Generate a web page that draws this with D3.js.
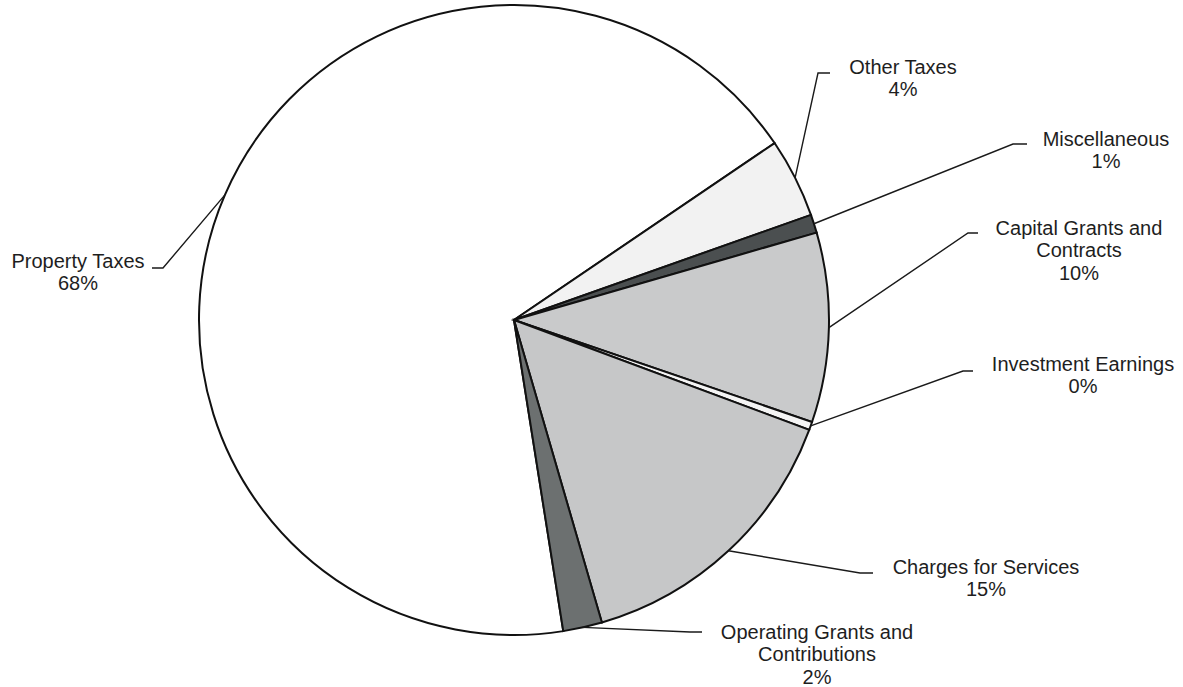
<!DOCTYPE html>
<html>
<head>
<meta charset="utf-8">
<script src="https://cdn.jsdelivr.net/npm/d3@7"></script>
<style>
  html, body { margin: 0; padding: 0; background: #ffffff; }
  svg { display: block; }
  text { font-family: "Liberation Sans", Arial, sans-serif; fill: #1e1e1e; }
</style>
</head>
<body>
<svg id="chart" width="1183" height="687"></svg>
<script>
// ---- data ----
const categories = ["Property Taxes", "Other Taxes", "Miscellaneous", "Capital Grants and Contracts",
                    "Investment Earnings", "Charges for Services", "Operating Grants and Contributions"];
const values = [68.0, 4.08, 0.94, 9.72, 0.42, 14.83, 2.0];
const labelLines = [
  ["Property Taxes"],
  ["Other Taxes"],
  ["Miscellaneous"],
  ["Capital Grants and", "Contracts"],
  ["Investment Earnings"],
  ["Charges for Services"],
  ["Operating Grants and", "Contributions"]
];
const fills = ["#ffffff", "#f2f2f2", "#4b4f50", "#c9cacb", "#f4f4f4", "#c6c7c8", "#6c7070"];

// ---- layout ----
const cx = 514, cy = 320, R = 315;
const startDeg = 171;
// label layout: text centre x, first-line centre y, elbow point, end point of leader
const labelLayout = [
  { tx: 78,   ty: 261, elbow: [163, 268], end: [152, 268] },
  { tx: 903,  ty: 67,  elbow: [818, 73],  end: [830, 73] },
  { tx: 1106, ty: 139, elbow: [1013, 144], end: [1027, 144] },
  { tx: 1079, ty: 228, elbow: [968, 233], end: [978, 233] },
  { tx: 1083, ty: 364, elbow: [963, 371], end: [973, 371] },
  { tx: 986,  ty: 567, elbow: [860, 573], end: [873, 573] },
  { tx: 817,  ty: 632, elbow: [690, 632], end: [702, 632] }
];
const lineGap = 22.3;

const svg = d3.select("#chart");
const g = svg.append("g").attr("transform", `translate(${cx},${cy})`);

const pie = d3.pie().sort(null).value(d => d)
  .startAngle(startDeg * Math.PI / 180)
  .endAngle(startDeg * Math.PI / 180 + 2 * Math.PI);
const arcs = pie(values);
const arc = d3.arc().innerRadius(0).outerRadius(R);

g.selectAll("path.slice").data(arcs).enter().append("path")
  .attr("class", "slice")
  .attr("d", arc)
  .attr("fill", (d, i) => fills[i])
  .attr("stroke", "#111")
  .attr("stroke-width", 2)
  .attr("stroke-linejoin", "miter");

// leader lines
arcs.forEach((d, i) => {
  const a = (d.startAngle + d.endAngle) / 2;
  const sx = cx + R * Math.sin(a), sy = cy - R * Math.cos(a);
  const L = labelLayout[i];
  svg.append("polyline")
    .attr("points", [[sx, sy], L.elbow, L.end].map(p => p.join(",")).join(" "))
    .attr("fill", "none")
    .attr("stroke", "#1a1a1a")
    .attr("stroke-width", 1.4);
});

// labels
arcs.forEach((d, i) => {
  const L = labelLayout[i];
  const lines = labelLines[i].concat([Math.round(values[i]) + "%"]);
  const t = svg.append("text")
    .attr("text-anchor", "middle")
    .attr("font-size", 20);
  lines.forEach((s, k) => {
    t.append("tspan")
      .attr("x", L.tx)
      .attr("y", L.ty + k * lineGap)
      .attr("dy", "0.35em")
      .text(s);
  });
});
</script>
</body>
</html>
